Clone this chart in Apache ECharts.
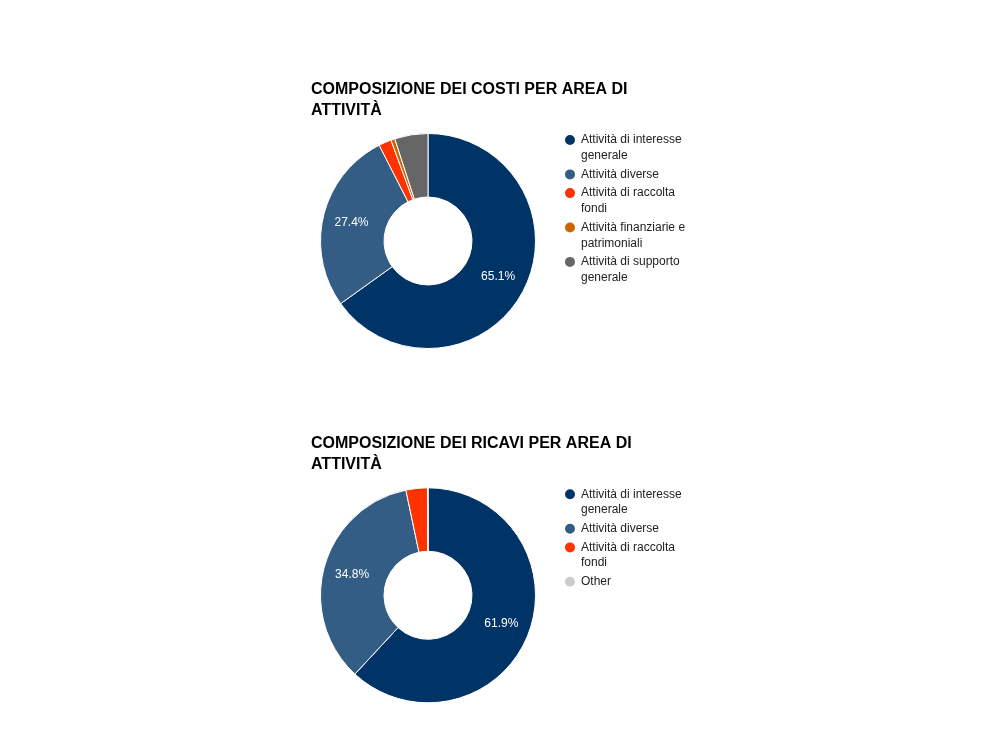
<!doctype html>
<html>
    <head>
        <meta charset="utf-8">
        <title>Composizione costi e ricavi</title>
        <style>
            html, body { margin: 0; padding: 0; background: #fff; }
            #main { width: 999px; height: 750px; }
        </style>
    </head>
    <body>
        <div id="main"></div>
        <script src="https://cdn.jsdelivr.net/npm/echarts@6/dist/echarts.min.js"></script>
        <script>
            // dati
            var titoloCosti = 'COMPOSIZIONE DEI COSTI PER AREA DI ATTIVITÀ';
            var titoloRicavi = 'COMPOSIZIONE DEI RICAVI PER AREA DI ATTIVITÀ';

            var areeCosti = [
                'Attività di interesse generale',
                'Attività diverse',
                'Attività di raccolta fondi',
                'Attività finanziarie e patrimoniali',
                'Attività di supporto generale'
            ];
            var valoriCosti = [65.1, 27.4, 1.9, 0.6, 5.0];

            var areeRicavi = [
                'Attività di interesse generale',
                'Attività diverse',
                'Attività di raccolta fondi',
                'Other'
            ];
            var valoriRicavi = [61.9, 34.8, 3.25, 0.05];

            var colori = {
                'Attività di interesse generale': '#003366',
                'Attività diverse': '#345d85',
                'Attività di raccolta fondi': '#ff3300',
                'Attività finanziarie e patrimoniali': '#cc6600',
                'Attività di supporto generale': '#666666',
                'Other': '#cccccc'
            };

            var FONT = 'Arial, "Liberation Sans", sans-serif';
            var LEGEND_W = 110;
            var LINE_H = 15.7;
            var ITEM_GAP = 3;

            // a capo per parole, come la legenda di riferimento
            var ctx = document.createElement('canvas').getContext('2d');
            ctx.font = '12px ' + FONT;
            function aCapo(testo) {
                var righe = [], riga = '';
                testo.split(' ').forEach(function (p) {
                    var prova = riga ? riga + ' ' + p : p;
                    if (riga && ctx.measureText(prova).width > LEGEND_W) {
                        righe.push(riga);
                        riga = p;
                    } else {
                        riga = prova;
                    }
                });
                righe.push(riga);
                return righe;
            }

            // icona: cerchio allineato alla prima riga, riquadro alto quanto il testo
            function icona(nRighe) {
                var h = nRighe * LINE_H;
                var c = LINE_H / 2;
                return 'path://M0,0 L0,0 M12,' + h + ' L12,' + h +
                    ' M0,' + c + ' A6,6 0 1,0 12,' + c + ' A6,6 0 1,0 0,' + c + ' Z';
            }

            function legende(nomi, primaY) {
                var y = primaY;
                return nomi.map(function (nome) {
                    var righe = aCapo(nome);
                    var leg = {
                        orient: 'vertical',
                        left: 563,
                        top: y - LINE_H / 2,
                        padding: 0,
                        icon: icona(righe.length),
                        itemWidth: 12,
                        itemHeight: righe.length * LINE_H,
                        selectedMode: false,
                        data: [nome],
                        formatter: function () { return righe.join('\n'); },
                        textStyle: {
                            fontFamily: FONT,
                            fontSize: 12,
                            color: '#222222',
                            lineHeight: LINE_H
                        }
                    };
                    y += righe.length * LINE_H + ITEM_GAP;
                    return leg;
                });
            }

            function titolo(testo, top) {
                return {
                    text: testo,
                    left: 311,
                    top: top,
                    padding: 0,
                    textStyle: {
                        fontFamily: FONT,
                        fontSize: 16,
                        fontWeight: 'bold',
                        color: '#000000',
                        lineHeight: 21,
                        width: 340,
                        overflow: 'break'
                    }
                };
            }

            function torta(nomi, valori, centroY) {
                return {
                    type: 'pie',
                    center: [428, centroY],
                    radius: [44, 107.5],
                    startAngle: 90,
                    clockwise: true,
                    avoidLabelOverlap: false,
                    silent: true,
                    itemStyle: { borderColor: '#ffffff', borderWidth: 1 },
                    label: {
                        position: 'inside',
                        color: '#ffffff',
                        fontFamily: FONT,
                        fontSize: 12,
                        formatter: function (p) {
                            return p.percent >= 10 ? p.percent.toFixed(1) + '%' : '';
                        }
                    },
                    labelLine: { show: false },
                    data: nomi.map(function (n, i) {
                        return { name: n, value: valori[i], itemStyle: { color: colori[n] } };
                    })
                };
            }

            var chart = echarts.init(document.getElementById('main'));

            chart.setOption({
                animation: false,
                title: [titolo(titoloCosti, 79), titolo(titoloRicavi, 433.5)],
                legend: legende(areeCosti, 139).concat(legende(areeRicavi, 493.3)),
                series: [
                    torta(areeCosti, valoriCosti, 241),
                    torta(areeRicavi, valoriRicavi, 595.3)
                ]
            });

            window.addEventListener('resize', function () {
                chart.resize();
            });
        </script>
    </body>
</html>
